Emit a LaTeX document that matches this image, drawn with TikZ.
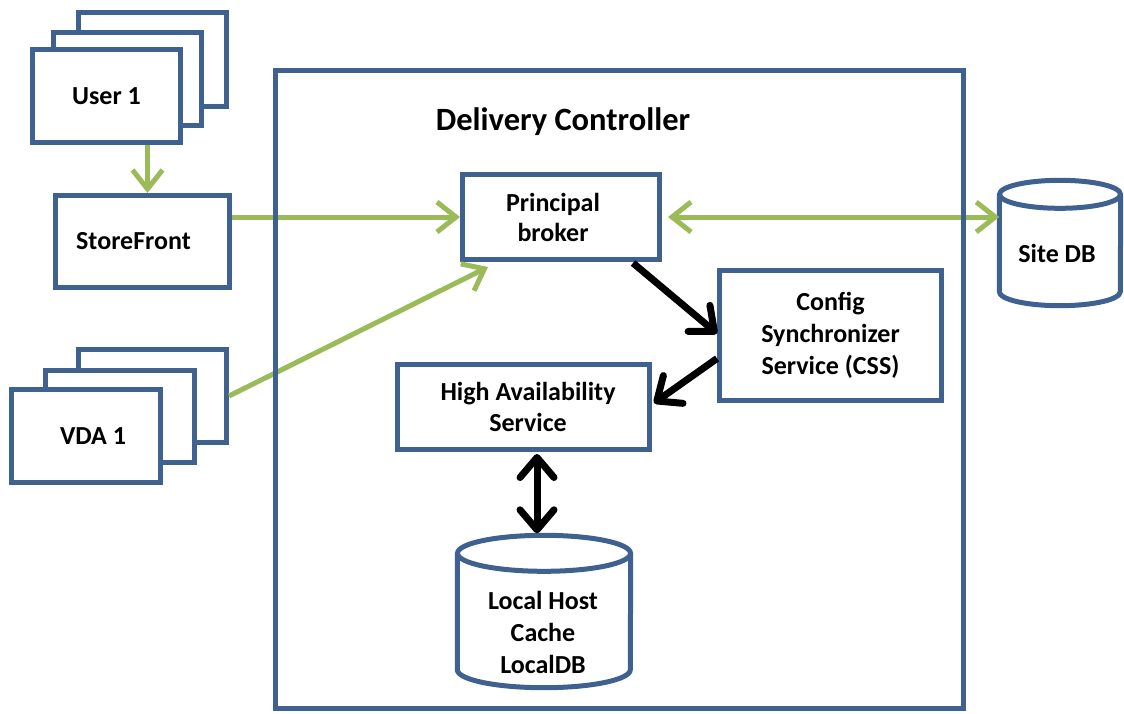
\documentclass[tikz,border=0pt]{standalone}
\usepackage{fontspec}
\setmainfont{Carlito}
\usetikzlibrary{arrows.meta,calc}
\definecolor{bbox}{HTML}{3F6190}
\definecolor{garrow}{HTML}{9BBB59}
\begin{document}
\begin{tikzpicture}[x=1pt,y=-1pt,
  box/.style={draw=bbox,line width=5pt,fill=white,inner sep=0pt,align=center,
    font=\bfseries\fontsize{26}{32}\selectfont},
  lbl/.style={inner sep=0pt,align=center,font=\bfseries\fontsize{26}{32}\selectfont},
  cyl/.style={draw=bbox,line width=5pt,line join=round},
  garr/.style={draw=garrow,line width=5pt,-{Straight Barb[length=19pt,width=30pt]}},
  gdarr/.style={draw=garrow,line width=5pt,{Straight Barb[length=19pt,width=30pt]}-{Straight Barb[length=19pt,width=30pt]}},
  karr/.style={draw=black,line width=7pt,-{Straight Barb[round,length=20pt,width=34pt]}},
  kdarr/.style={draw=black,line width=7pt,{Straight Barb[round,length=20pt,width=34pt]}-{Straight Barb[round,length=20pt,width=34pt]}}
]
\useasboundingbox (0,0) rectangle (1124,713);

% User stack
\node[box,minimum width=148pt,minimum height=94pt] (userback) at (152.5,59.5) {};
\node[box,minimum width=148pt,minimum height=93pt] (usermid) at (127.5,79) {};
\node[box,minimum width=148pt,minimum height=93pt] (user) at (106.5,96) {User 1};
% StoreFront
\node[box,minimum width=174pt,minimum height=92pt,text width=174pt] (sf) at (142.5,241.5) {\hspace*{-18pt}StoreFront};
% VDA stack
\node[box,minimum width=148pt,minimum height=93pt] (vdaback) at (152.5,396) {};
\node[box,minimum width=149pt,minimum height=92pt] (vdamid) at (120,416.5) {};
\node[box,minimum width=149pt,minimum height=93pt] (vda) at (86,436) {\hspace*{14pt}VDA 1};

% Delivery controller inner boxes
\node[lbl,font=\bfseries\fontsize{32.5}{38}\selectfont] (title) at (563,122) {Delivery Controller};
\node[box,minimum width=197pt,minimum height=85pt] (pb) at (561,217) {\hspace*{-16pt}Principal\\[-2pt]\hspace*{-16pt}broker};
\node[box,minimum width=222pt,minimum height=130pt] (css) at (830.5,335.5) {Config\\Synchronizer\\Service (CSS)};
\node[box,minimum width=252pt,minimum height=85pt] (ha) at (523.5,407) {\hspace*{9pt}High Availability\\[-1pt]\hspace*{9pt}Service};

% Site DB cylinder
\node[inner sep=0pt,minimum width=121pt,minimum height=125pt] (sitedb) at (1060,243) {};
\draw[cyl] ($(sitedb.north west)+(0,14)$) -- ($(sitedb.south west)+(0,-14)$)
  arc[start angle=180,end angle=360,x radius=60.5pt,y radius=14pt]
  -- ($(sitedb.north east)+(0,14)$);
\draw[cyl] ($(sitedb.north)+(0,14)$) ellipse[x radius=60.5pt,y radius=14pt];
\node[lbl] (sitedblbl) at (1057,253) {Site DB};

% Local DB cylinder
\node[inner sep=0pt,minimum width=173pt,minimum height=152pt] (localdb) at (544,611.5) {};
\draw[cyl] ($(localdb.north west)+(0,18)$) -- ($(localdb.south west)+(0,-18)$)
  arc[start angle=180,end angle=360,x radius=86.5pt,y radius=18pt]
  -- ($(localdb.north east)+(0,18)$);
\draw[cyl] ($(localdb.north)+(0,18)$) ellipse[x radius=86.5pt,y radius=18pt];
\node[lbl] (localdblbl) at (543,632) {Local Host\\Cache\\LocalDB};

% Green connectors
\draw[garr] ([xshift=41pt]user.south) -- ([xshift=41pt]user.south |- sf.north);
\draw[garr] (sf.east |- pb.west) -- (pb.west);
\draw[garr] (vdaback.east) -- ([xshift=-73pt,yshift=-5pt]pb.south);
\draw[gdarr] ([xshift=6pt]pb.east) -- (pb.east -| sitedb.west);

% Black connectors
\draw[karr] ([xshift=72pt,yshift=-1pt]pb.south) -- ([yshift=2pt]css.west);
\draw[karr] ([yshift=-23pt]css.west) -- ([xshift=2pt,yshift=4pt]ha.east);
\draw[kdarr] ([xshift=-7pt,yshift=-2pt]localdb.north |- ha.south) -- ([xshift=-7pt,yshift=2pt]localdb.north);

% Delivery controller frame (drawn over the crossing arrows)
\node[draw=bbox,line width=5pt,inner sep=0pt,minimum width=688pt,minimum height=638pt] (dc) at (619.5,389.5) {};
\end{tikzpicture}
\end{document}
